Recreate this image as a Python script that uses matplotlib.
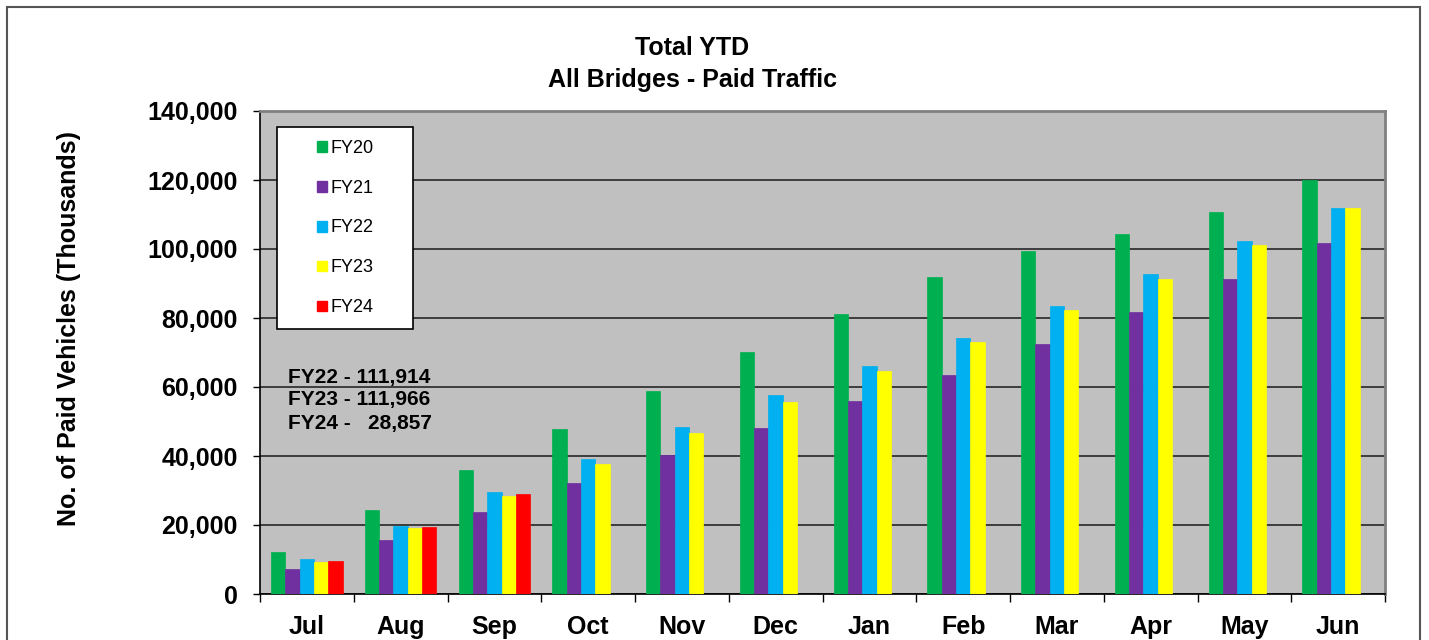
"""Total YTD - All Bridges - Paid Traffic (grouped bar chart)."""
import matplotlib
matplotlib.use("Agg")
import matplotlib.pyplot as plt
import numpy as np
from matplotlib.patches import Patch, Rectangle
from matplotlib.ticker import FuncFormatter, FixedLocator

plt.rcParams["font.family"] = ["Liberation Sans", "DejaVu Sans"]

months = ["Jul", "Aug", "Sep", "Oct", "Nov", "Dec",
          "Jan", "Feb", "Mar", "Apr", "May", "Jun"]
fy20 = [12080, 24350, 35940, 47800, 58900, 70100, 81300, 91900, 99500, 104400, 110600, 120000]
fy21 = [7250, 15550, 23770, 32300, 40300, 48100, 56000, 63500, 72600, 81800, 91300, 101600]
fy22 = [10050, 19800, 29570, 39100, 48400, 57700, 66100, 74200, 83600, 92800, 102300, 111914]
fy23 = [9370, 19230, 28410, 37800, 46800, 55700, 64500, 73000, 82400, 91400, 101100, 111966]
fy24 = [9660, 19420, 28857]

series = [("FY20", fy20, "#00B050"), ("FY21", fy21, "#7030A0"),
          ("FY22", fy22, "#00B0F0"), ("FY23", fy23, "#FFFF00"),
          ("FY24", fy24, "#FF0000")]
notes = ["FY22 - 111,914", "FY23 - 111,966", "FY24 -   28,857"]

W, H = 1429, 640
fig = plt.figure(figsize=(W / 100, H / 100), dpi=100)
ax = fig.add_axes([260 / W, 1 - 594 / H, 1125 / W, 483 / H])
ax.set_facecolor("#C0C0C0")

w = 0.153
for k, (name, vals, col) in enumerate(series):
    x = np.arange(len(vals)) + (k - 2) * w
    ax.bar(x, vals, w, color=col, edgecolor=col, linewidth=0.5, zorder=3)

ax.set_xlim(-0.5, len(months) - 0.5)
ax.set_ylim(0, 140000)
ax.set_yticks(range(0, 140001, 20000))
ax.yaxis.set_major_formatter(FuncFormatter(lambda v, p: f"{int(v):,}"))
ax.yaxis.grid(True, color="#333333", linewidth=1.3, zorder=1)
ax.set_xticks(range(len(months)))
ax.set_xticklabels(months)
ax.xaxis.set_minor_locator(FixedLocator(np.arange(-0.5, len(months), 1)))
ax.tick_params(axis="x", which="major", length=0, pad=15)
ax.tick_params(axis="x", which="minor", length=6, width=1, direction="out")
ax.tick_params(axis="y", length=5, width=1, pad=11)
for lab in ax.get_xticklabels() + ax.get_yticklabels():
    lab.set_fontsize(18)
    lab.set_fontweight("bold")

for s in ("top", "right"):
    ax.spines[s].set_color("#808080")
    ax.spines[s].set_linewidth(2)
for s in ("left", "bottom"):
    ax.spines[s].set_color("#000000")
    ax.spines[s].set_linewidth(1.2)

# Titles and axis label
fig.text(692 / W, 1 - 48 / H, "Total YTD", ha="center", va="center",
         fontsize=18, fontweight="bold")
fig.text(692 / W, 1 - 80 / H, "All Bridges - Paid Traffic", ha="center", va="center",
         fontsize=18, fontweight="bold")
fig.text(69 / W, 1 - 328 / H, "No. of Paid Vehicles (Thousands)", rotation=90,
         ha="center", va="center", fontsize=18, fontweight="bold")

# Legend with its own white box
fig.patches.append(Rectangle((277 / W, 1 - 329 / H), 136 / W, 202 / H,
                             transform=fig.transFigure, facecolor="white",
                             edgecolor="black", linewidth=1.2, zorder=4))
handles = [Patch(facecolor=c, edgecolor=c, label=n) for n, _, c in series]
leg = fig.legend(handles=handles, loc="center", bbox_to_anchor=(345 / W, 1 - 228 / H),
                 frameon=False, fontsize=13, handlelength=0.55, handleheight=0.55,
                 handletextpad=0.2, labelspacing=1.27, borderpad=0)
leg.set_zorder(5)

for i, t in enumerate(notes):
    fig.text(288 / W, 1 - (377 + 23 * i) / H, t, ha="left", va="center",
             fontsize=15, fontweight="bold", zorder=5)

# Outer chart frame (bottom edge lies off the picture)
fig.patches.append(Rectangle((7 / W, -0.05), 1413 / W, 1.05 - 7 / H,
                             transform=fig.transFigure, facecolor="none",
                             edgecolor="#555555", linewidth=1.5))

fig.savefig("out.png", dpi=100)
